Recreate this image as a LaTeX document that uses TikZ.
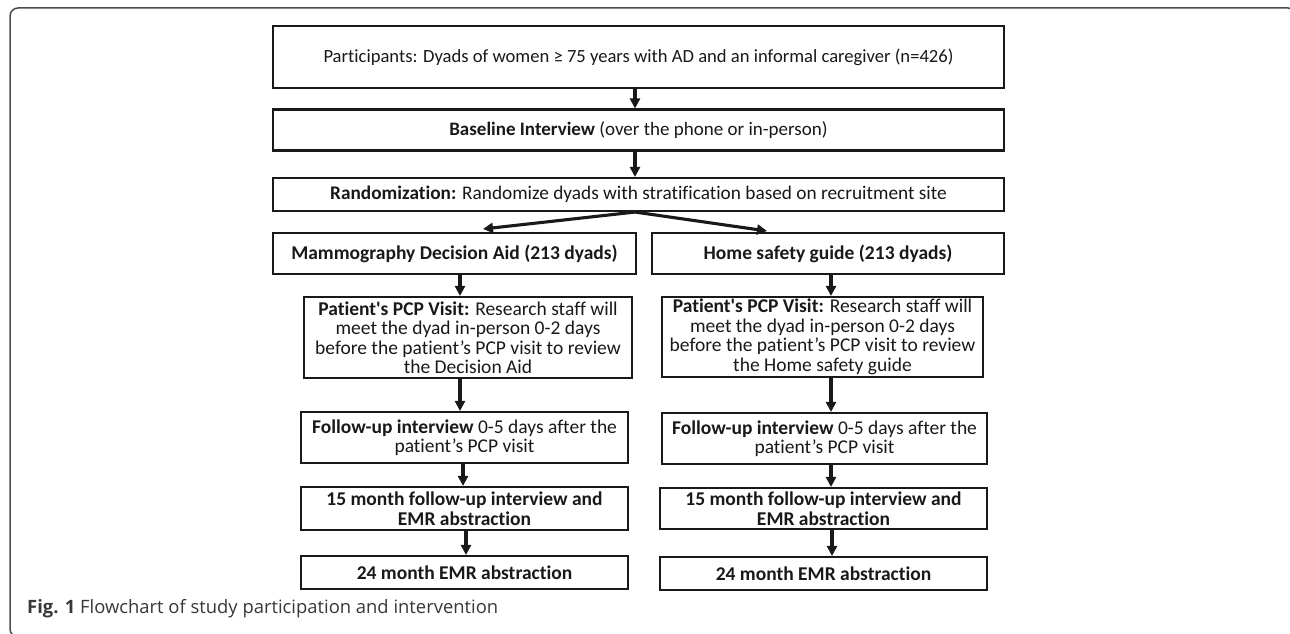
\documentclass[tikz,border=0pt]{standalone}
\usepackage{fontspec}
\setmainfont{Carlito}[Ligatures={CommonOff,TeXOff}]
\newfontfamily\capfont{Open Sans}
\usetikzlibrary{arrows.meta}
\begin{document}
\begin{tikzpicture}[x=1pt,y=-1pt,
  box/.style={draw=black!90, line width=2.1pt, inner sep=0pt, align=center,
    font=\fontsize{19.5}{19.5}\selectfont, text=black!90},
  arr/.style={line width=3.1pt, draw=black!90, -{Triangle[length=10pt,width=10pt]}},
]
\useasboundingbox (0,0) rectangle (1290,634);
\fill[white] (0,0) rectangle (1290,634);
\draw[line width=1.5pt, black!70, rounded corners=8pt] (10,8) rectangle (1296,637);

% top column
\node[box, minimum width=731, minimum height=62, font=\fontsize{18.6}{19}\selectfont] (p1) at (638.5,57)
  {Participants: Dyads of women ≥ 75 years with AD and an informal caregiver (n=426)};
\node[box, minimum width=731, minimum height=41, font=\fontsize{19}{19}\selectfont] (p2) at (638.5,130)
  {\textbf{Baseline Interview} (over the phone or in-person)};
\node[box, minimum width=731, minimum height=33, font=\fontsize{19.3}{19}\selectfont] (p3) at (638.5,194.5)
  {\textbf{Randomization:} Randomize dyads with stratification based on recruitment site};

% two arms
\node[box, minimum width=363, minimum height=41] (p4) at (454.5,253.5)
  {\textbf{Mammography Decision Aid (213 dyads)}};
\node[box, minimum width=352, minimum height=41] (p5) at (828,253.5)
  {\textbf{Home safety guide (213 dyads)}};

\node[box, minimum width=328, minimum height=81] (p6) at (468,337.5)
  {\textbf{Patient's PCP Visit:} Research staff will\\meet the dyad in-person 0-2 days\\before the patient’s PCP visit to review\\the Decision Aid};
\node[box, minimum width=321, minimum height=80] (p7) at (822.5,337)
  {\textbf{Patient's PCP Visit:} Research staff will\\meet the dyad in-person 0-2 days\\before the patient’s PCP visit to review\\the Home safety guide};

\node[box, minimum width=327, minimum height=51] (p8) at (464.5,437.5)
  {\textbf{Follow-up interview} 0-5 days after the\\patient’s PCP visit};
\node[box, minimum width=325, minimum height=51] (p9) at (824.5,438.5)
  {\textbf{Follow-up interview} 0-5 days after the\\patient’s PCP visit};

\node[box, minimum width=327, minimum height=43] (p10) at (464.5,508.5)
  {\textbf{15 month follow-up interview and}\\\textbf{EMR abstraction}};
\node[box, minimum width=327, minimum height=41] (p11) at (823.5,508.5)
  {\textbf{15 month follow-up interview and}\\\textbf{EMR abstraction}};

\node[box, minimum width=327, minimum height=33] (p12) at (464.5,572.5)
  {\textbf{24 month EMR abstraction}};
\node[box, minimum width=327, minimum height=33] (p13) at (823.5,573.5)
  {\textbf{24 month EMR abstraction}};

% caption
\node[anchor=west, inner sep=0pt, font=\capfont\fontsize{18.4}{20}\selectfont, text=black!78] (cap) at (27,609)
  {\textbf{Fig. 1} Flowchart of study participation and intervention};

% x positions of connectors
\coordinate (xa) at (635,0);
\coordinate (xl1) at (460,0);
\coordinate (xl2) at (463,0);
\coordinate (xl3) at (466,0);
\coordinate (xr1) at (831,0);
\coordinate (xr2) at (832,0);
\coordinate (t4) at (483,229);
\coordinate (t5) at (767,231);

\draw[arr] (p1.south -| xa) -- (p2.north -| xa);
\draw[arr] (p2.south -| xa) -- (p3.north -| xa);
\draw[arr] (p3.south -| xa) -- (t4);
\draw[arr] (p3.south -| xa) -- (t5);
\draw[arr] (p4.south -| xl1) -- (p6.north -| xl1);
\draw[arr] (p6.south -| xl1) -- (p8.north -| xl1);
\draw[arr] (p8.south -| xl2) -- (p10.north -| xl2);
\draw[arr] (p10.south -| xl3) -- (p12.north -| xl3);
\draw[arr] (p5.south -| xr1) -- (p7.north -| xr1);
\draw[arr] (p7.south -| xr1) -- (p9.north -| xr1);
\draw[arr] (p9.south -| xr1) -- (p11.north -| xr1);
\draw[arr] (p11.south -| xr2) -- (p13.north -| xr2);
\end{tikzpicture}
\end{document}
